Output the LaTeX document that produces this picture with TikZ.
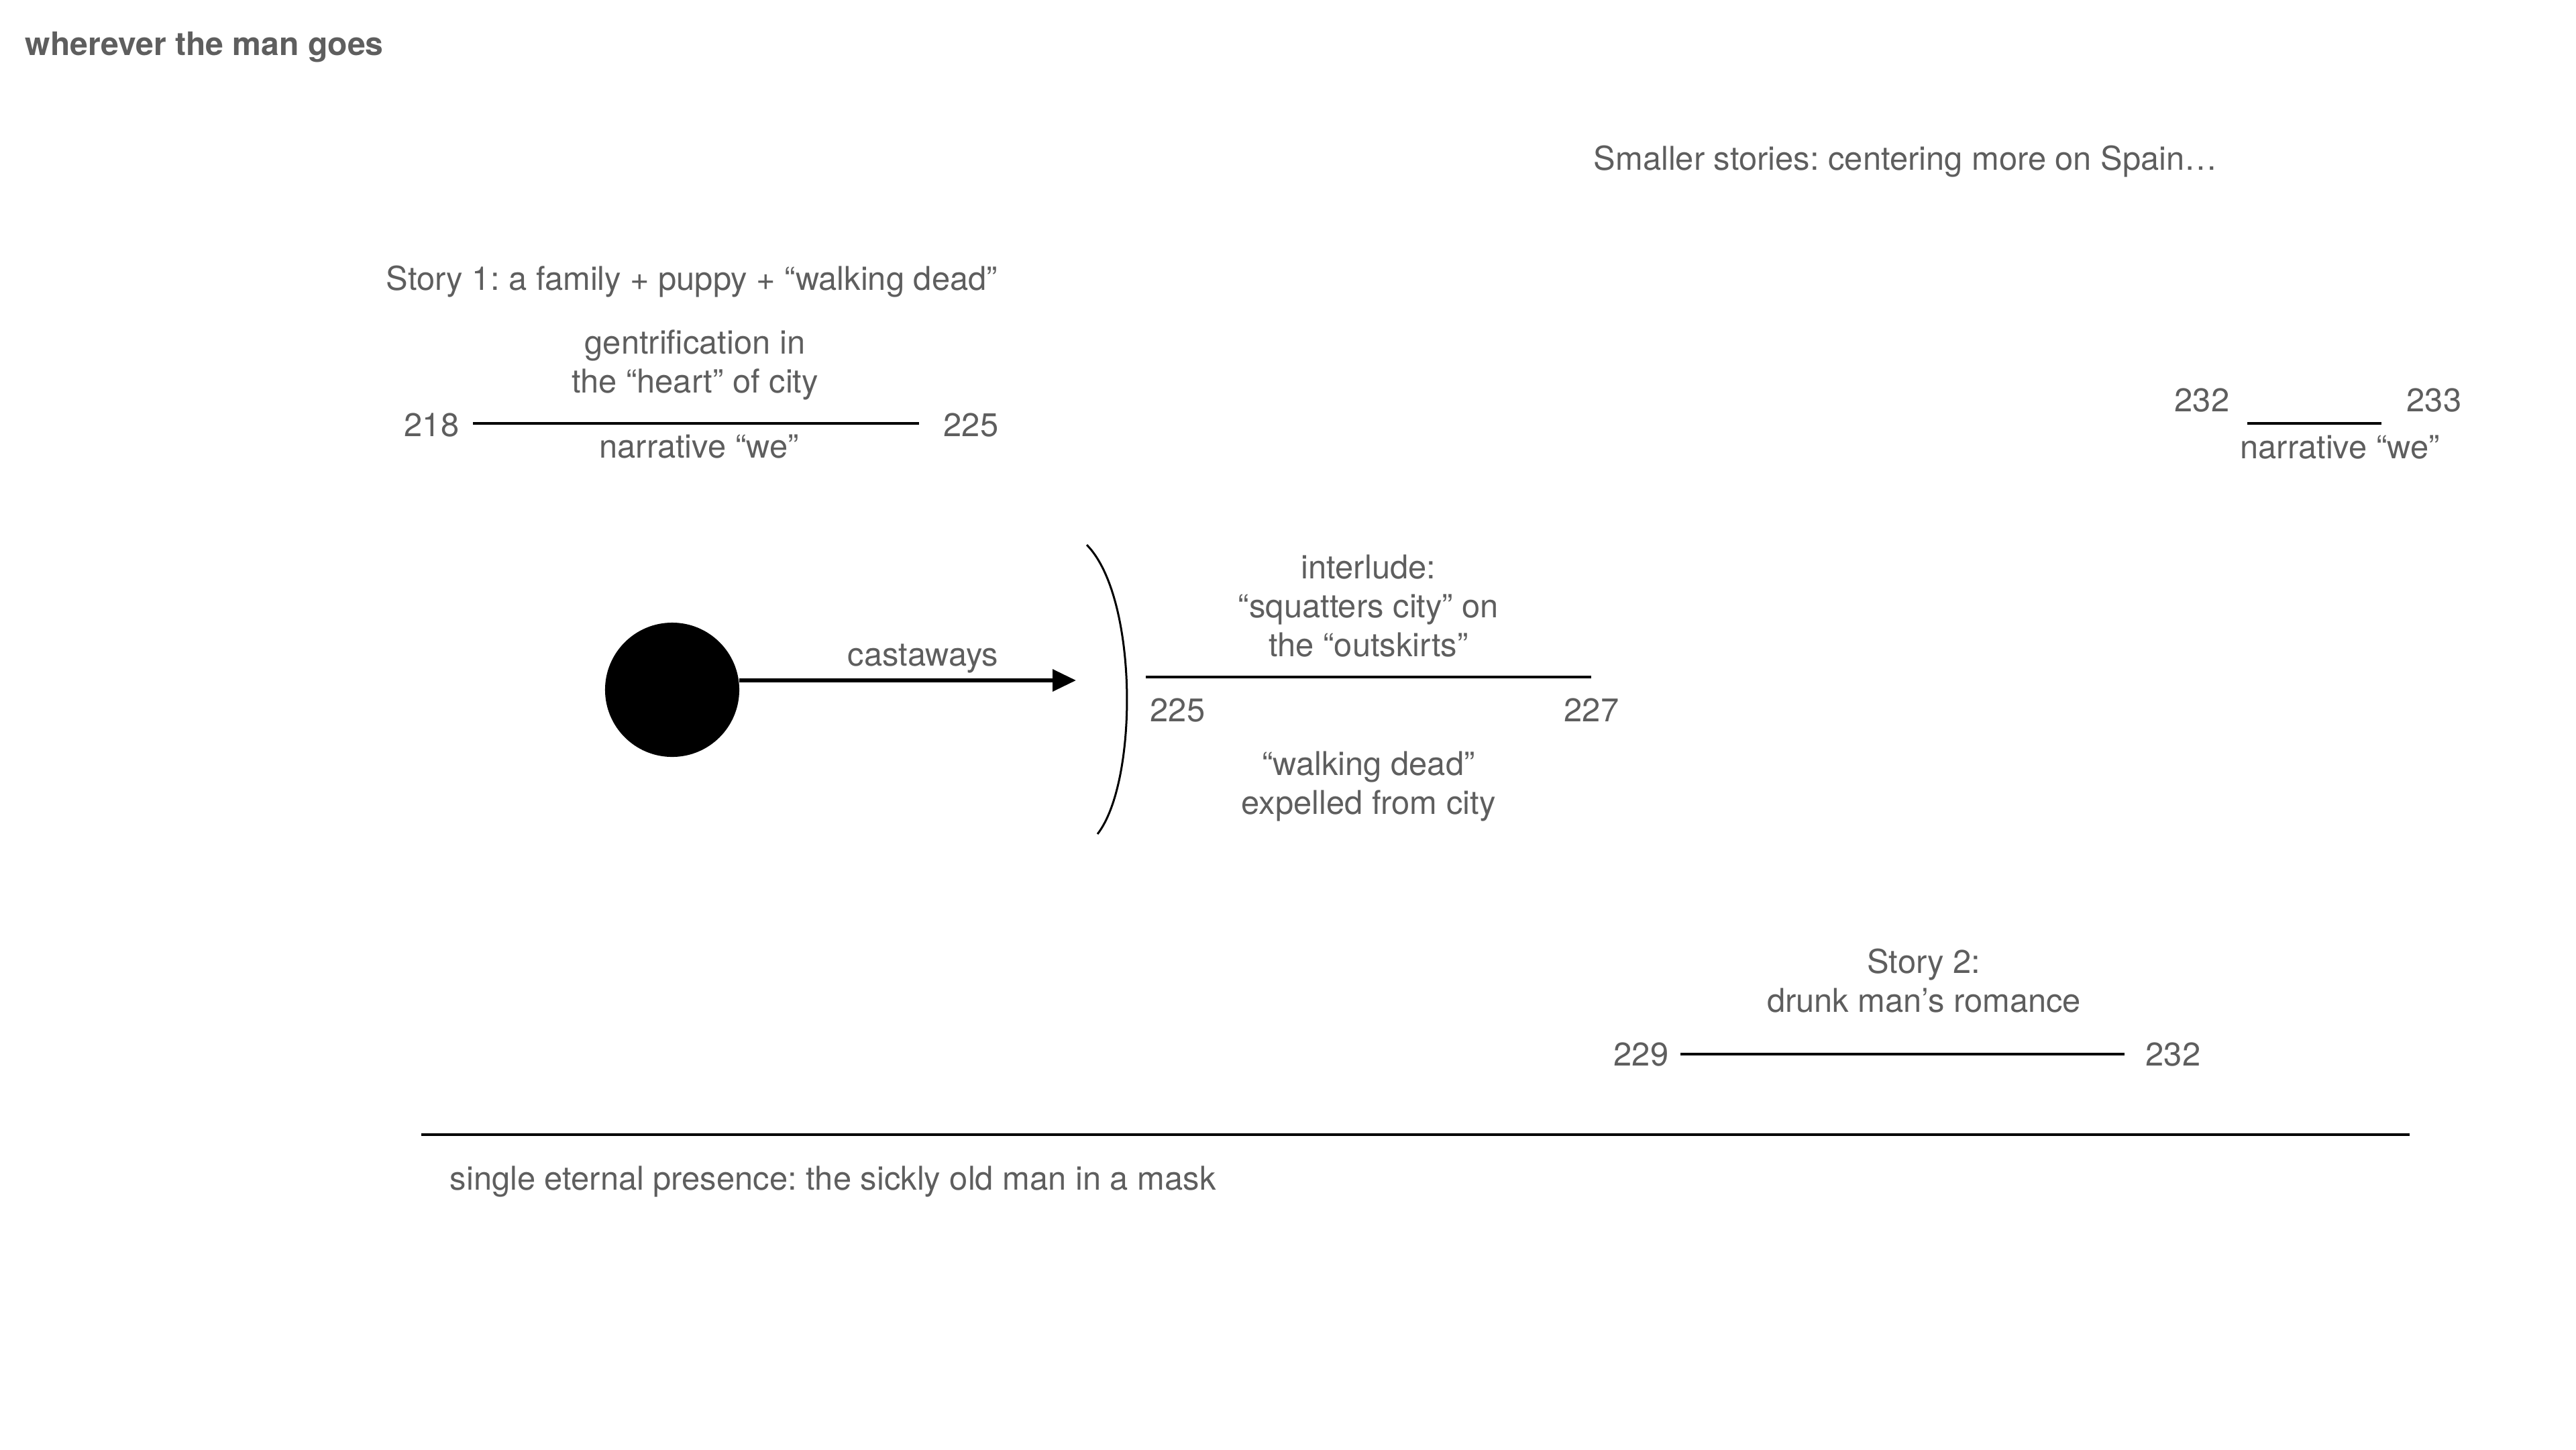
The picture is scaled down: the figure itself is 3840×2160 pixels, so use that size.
\documentclass[tikz,border=0pt]{standalone}
\usepackage{fontspec}
\setmainfont{TeX Gyre Heros}
\usetikzlibrary{arrows.meta}
\definecolor{txtgray}{HTML}{5E5E5E}
\frenchspacing
\newcommand{\mlines}[1]{\begin{tabular}[b]{@{}c@{}}#1\end{tabular}}
\tikzset{
  lbl/.style={text=txtgray, inner sep=0pt, font=\fontsize{13.9pt}{16.4pt}\selectfont},
  seg/.style={draw=black, line width=0.035cm},
  arr/.style={draw=black, line width=0.06cm, -{Triangle[length=0.35cm,width=0.32cm]}},
  bracket/.style={draw=black, line width=0.03cm}
}
\begin{document}
\begin{tikzpicture}[x=0.01cm,y=-0.01cm]
\useasboundingbox (0,0) rectangle (3840,2160);

% title
\node[lbl, anchor=base west, font=\fontsize{13.7pt}{16.4pt}\selectfont\bfseries] (title) at (37,82) {wherever the man goes};

% top-right heading
\node[lbl, anchor=base west] (smaller) at (2375,253) {Smaller stories: centering more on Spain…};

% Story 1
\node[lbl, anchor=base west] (story1) at (575,432) {Story 1: a family + puppy + “walking dead”};
\node[lbl, anchor=base] (gentr) at (1036,585) {\mlines{gentrification in\\the “heart” of city}};
\node[lbl, anchor=base east] (n218) at (685,650) {218};
\node[lbl, anchor=base west] (n225a) at (1406,650) {225};
\coordinate (s1a) at (705,631);
\coordinate (s1b) at (1370,631);
\draw[seg] (s1a) -- (s1b);
\node[lbl, anchor=base] (we1) at (1042,682) {narrative “we”};

% circle and arrow
\node[circle, fill=black, inner sep=0pt, minimum size=2cm] (dot) at (1002,1028) {};
\coordinate (tip) at (1604,1014);
\draw[arr] (dot.8) -- (dot.8 -| tip);
\node[lbl, anchor=base] (cast) at (1376,992) {castaways};

% bracket arc
\coordinate (arcT) at (1620,812);
\coordinate (arcB) at (1636,1243);
\draw[bracket] (arcT) .. controls (1697,890) and (1697,1165) .. (arcB);

% interlude
\node[lbl, anchor=base] (inter) at (2040,978) {\mlines{interlude:\\“squatters city” on\\the “outskirts”}};
\coordinate (ia) at (1708,1009);
\coordinate (ib) at (2372,1009);
\draw[seg] (ia) -- (ib);
\node[lbl, anchor=base west] (n225b) at (1714,1075) {225};
\node[lbl, anchor=base west] (n227) at (2331,1075) {227};
\node[lbl, anchor=base] (walk) at (2040,1213) {\mlines{“walking dead”\\expelled from city}};

% right segment 232-233
\node[lbl, anchor=base west] (n232a) at (3241,613) {232};
\node[lbl, anchor=base west] (n233) at (3587,613) {233};
\coordinate (ra) at (3350,631);
\coordinate (rb) at (3550,631);
\draw[seg] (ra) -- (rb);
\node[lbl, anchor=base] (we2) at (3488,683) {narrative “we”};

% Story 2
\node[lbl, anchor=base] (story2) at (2868,1508) {\mlines{Story 2:\\drunk man’s romance}};
\node[lbl, anchor=base west] (n229) at (2405,1588) {229};
\node[lbl, anchor=base west] (n232b) at (3198,1588) {232};
\coordinate (s2a) at (2505,1571);
\coordinate (s2b) at (3167,1571);
\draw[seg] (s2a) -- (s2b);

% eternal line
\coordinate (la) at (628,1691);
\coordinate (lb) at (3592,1691);
\draw[seg, line width=0.04cm] (la) -- (lb);
\node[lbl, anchor=base west] (single) at (670,1773) {single eternal presence: the sickly old man in a mask};
\end{tikzpicture}
\end{document}
